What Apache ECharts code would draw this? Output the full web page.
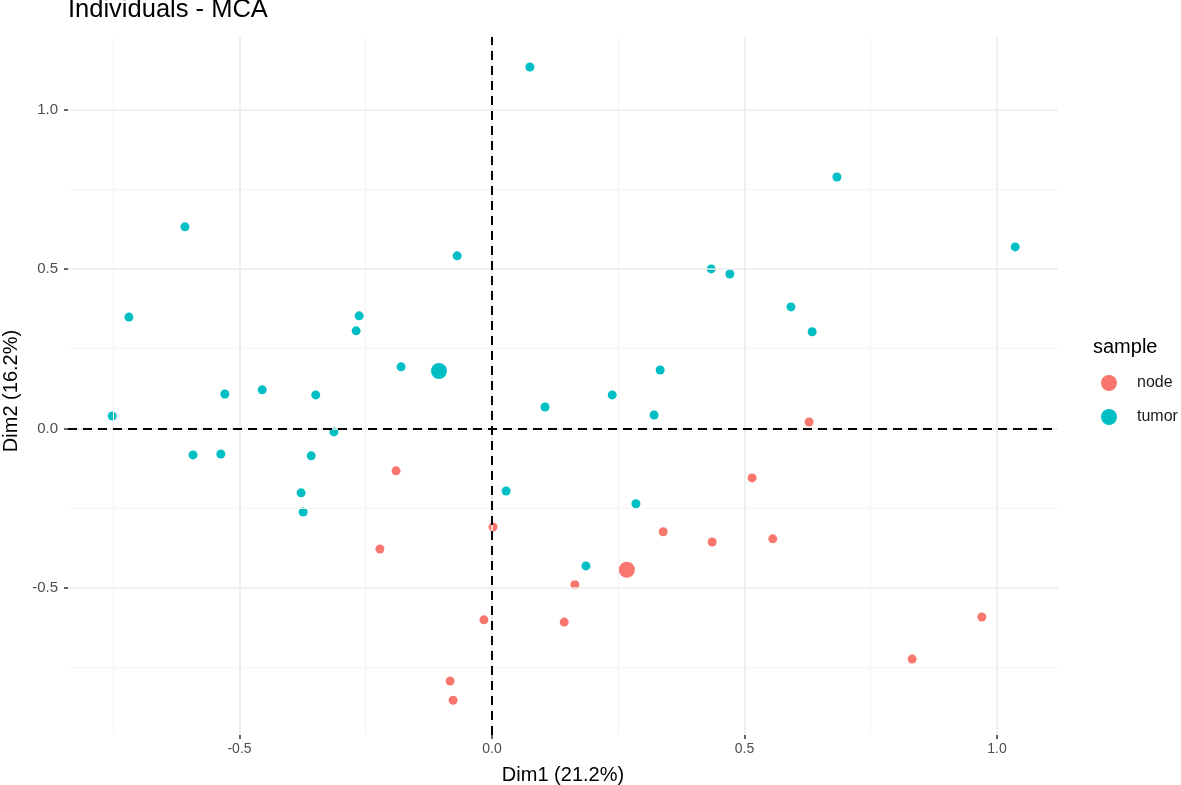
<!DOCTYPE html>
<html>
<head>
<meta charset="utf-8">
<script src="https://cdn.jsdelivr.net/npm/echarts@6/dist/echarts.min.js"></script>
<style>
  html, body { margin: 0; padding: 0; background: #fff; }
  #main { width: 1181px; height: 785px; }
</style>
</head>
<body>
<div id="main"></div>
<script>
// points: [Dim1, Dim2]
var tumorPoints = [
    [0.075, 1.133], [0.683, 0.788], [1.036, 0.569], [-0.608, 0.632], [-0.069, 0.541],
    [0.434, 0.500], [0.471, 0.484], [-0.719, 0.349], [-0.263, 0.353], [-0.269, 0.306],
    [0.592, 0.381], [0.634, 0.303], [-0.180, 0.193], [0.333, 0.183], [-0.529, 0.108],
    [-0.455, 0.121], [-0.349, 0.105], [0.238, 0.105], [0.105, 0.067], [0.321, 0.042],
    [-0.752, 0.039], [-0.592, -0.083], [-0.537, -0.080], [-0.313, -0.011], [-0.358, -0.086],
    [-0.378, -0.202], [-0.374, -0.262], [0.028, -0.196], [0.285, -0.236], [0.186, -0.431]
];
var nodePoints = [
    [0.628, 0.020], [-0.190, -0.133], [0.515, -0.155], [0.002, -0.309], [0.339, -0.324],
    [0.436, -0.356], [0.556, -0.346], [-0.222, -0.378], [0.164, -0.490], [-0.016, -0.600],
    [0.143, -0.607], [0.970, -0.591], [0.832, -0.723], [-0.083, -0.792], [-0.077, -0.852]
];
// group centres (bigger points)
var tumorMean = [[-0.105, 0.180]];
var nodeMean = [[0.267, -0.443]];

var xTicks = [-0.5, 0.0, 0.5, 1.0];
var yTicks = [-0.5, 0.0, 0.5, 1.0];
var xMinor = [-0.75, -0.25, 0.25, 0.75];
var yMinor = [-0.75, -0.25, 0.25, 0.75];

var FONT = 'Liberation Sans';
var colNode = '#F8766D', colTumor = '#00BFC4';

function gridLines() {
    var out = [];
    xMinor.forEach(function (v) { out.push({ xAxis: v, lineStyle: { color: '#F4F4F4', width: 1, type: 'solid' } }); });
    yMinor.forEach(function (v) { out.push({ yAxis: v, lineStyle: { color: '#F4F4F4', width: 1, type: 'solid' } }); });
    xTicks.forEach(function (v) { out.push({ xAxis: v, lineStyle: { color: '#EBEBEB', width: 1.6, type: 'solid' } }); });
    yTicks.forEach(function (v) { out.push({ yAxis: v, lineStyle: { color: '#EBEBEB', width: 1.6, type: 'solid' } }); });
    return out;
}

var chart = echarts.init(document.getElementById('main'));
chart.setOption({
    animation: false,
    backgroundColor: '#fff',
    title: [
        { text: 'Individuals - MCA', left: 63, top: -8,
          textStyle: { fontFamily: FONT, fontSize: 25.5, fontWeight: 'normal', color: '#000' } },
        { text: 'sample', left: 1088, top: 332,
          textStyle: { fontFamily: FONT, fontSize: 20, fontWeight: 'normal', color: '#000' } }
    ],
    legend: {
        orient: 'vertical',
        left: 1096, top: 370,
        itemWidth: 16, itemHeight: 16, itemGap: 18,
        icon: 'circle',
        data: ['node', 'tumor'],
        itemStyle: { opacity: 1 },
        textStyle: { fontFamily: FONT, fontSize: 16, color: '#1a1a1a', padding: [0, 0, 0, 15] }
    },
    grid: { left: 68, right: 123, top: 37, bottom: 50, outerBoundsMode: 'none', containLabel: false },
    xAxis: {
        type: 'value', min: -0.8396, max: 1.1208,
        name: 'Dim1 (21.2%)', nameLocation: 'middle', nameGap: 30,
        nameTextStyle: { fontFamily: FONT, fontSize: 20, color: '#000' },
        axisLine: { show: true, onZero: false, lineStyle: { color: 'rgba(0,0,0,0)' } },
        axisTick: { show: true, customValues: xTicks, length: 4, lineStyle: { color: '#333', width: 1.5 } },
        axisLabel: { customValues: xTicks, margin: 7, fontFamily: FONT, fontSize: 14, color: '#4D4D4D',
                     formatter: function (v) { return v.toFixed(1); } },
        splitLine: { show: false }
    },
    yAxis: {
        type: 'value', min: -0.961, max: 1.227,
        name: 'Dim2 (16.2%)', nameLocation: 'middle', nameGap: 44, nameRotate: 90,
        nameTextStyle: { fontFamily: FONT, fontSize: 20, color: '#000', padding: [0, 10, 0, 0] },
        axisLine: { show: true, onZero: false, lineStyle: { color: 'rgba(0,0,0,0)' } },
        axisTick: { show: true, customValues: yTicks, length: 4, lineStyle: { color: '#333', width: 1.5 } },
        axisLabel: { customValues: yTicks, margin: 10, fontFamily: FONT, fontSize: 15, color: '#4D4D4D',
                     formatter: function (v) { return v.toFixed(1); } },
        splitLine: { show: false }
    },
    series: [
        {   // panel grid
            type: 'line', data: [], z: 0, silent: true,
            markLine: { silent: true, symbol: ['none', 'none'], label: { show: false },
                        animation: false, data: gridLines() }
        },
        {   // dashed reference lines at 0
            type: 'line', data: [], z: 1, silent: true,
            markLine: { silent: true, symbol: ['none', 'none'], label: { show: false }, animation: false,
                        lineStyle: { color: '#000', width: 2, type: [9, 6] },
                        data: [{ xAxis: 0 }, { yAxis: 0 }] }
        },
        { name: 'node', type: 'scatter', data: nodePoints, symbolSize: 9, z: 3,
          itemStyle: { color: colNode, opacity: 1 } },
        { name: 'tumor', type: 'scatter', data: tumorPoints, symbolSize: 9, z: 3,
          itemStyle: { color: colTumor, opacity: 1 } },
        { name: 'node', type: 'scatter', data: nodeMean, symbolSize: 16, z: 3,
          itemStyle: { color: colNode, opacity: 1 } },
        { name: 'tumor', type: 'scatter', data: tumorMean, symbolSize: 16, z: 3,
          itemStyle: { color: colTumor, opacity: 1 } }
    ]
});
</script>
</body>
</html>
